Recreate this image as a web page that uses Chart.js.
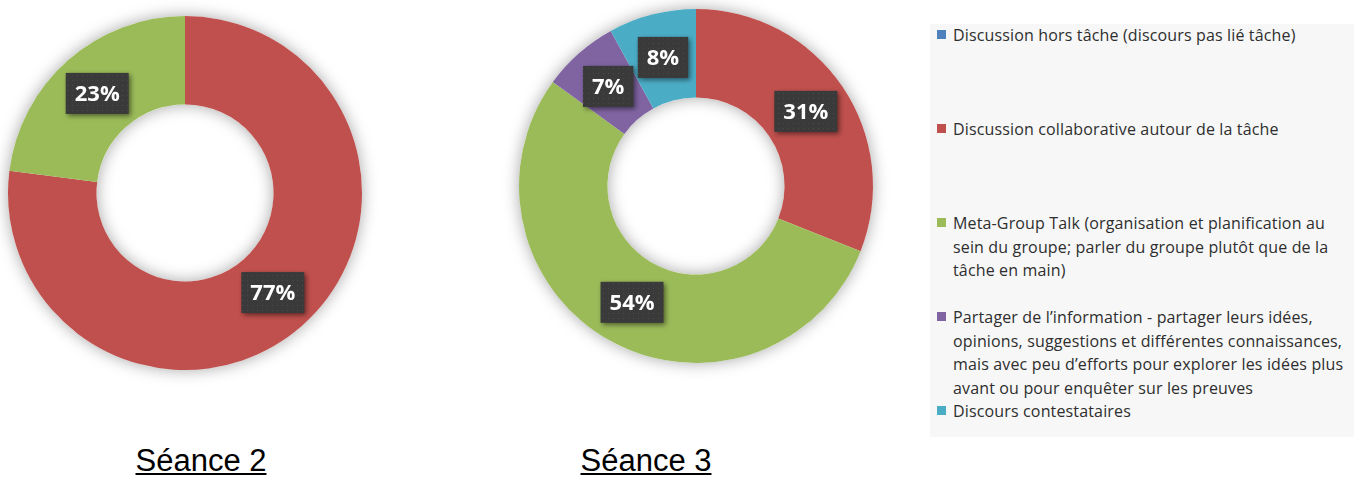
<!DOCTYPE html>
<html>
<head>
<meta charset="utf-8">
<script src="https://cdn.jsdelivr.net/npm/chart.js@4.4.1/dist/chart.umd.min.js"></script>
<style>
    html, body { margin: 0; padding: 0; background: #fff; }
    body { width: 1354px; height: 477px; position: relative; overflow: hidden; }
    .donut { position: absolute; width: 400px; height: 400px; }
    #chart2 { left: -15px; top: -7px; }
    #chart3 { left: 496px; top: -14px; }
    .title {
        position: absolute; top: 446px; width: 200px; margin-left: -100px;
        text-align: center; font-family: "Liberation Sans", Arial, sans-serif;
        font-size: 31px; text-decoration: underline; text-decoration-thickness: 2px;
        text-underline-offset: 2px; color: #000; line-height: 30px;
    }
    .legend {
        position: absolute; left: 930px; top: 24px; width: 424px; height: 413px;
        background: #f7f7f7;
    }
    .legend .item { position: absolute; left: 7px; }
    .legend .box { position: absolute; left: 0; top: 6px; width: 9px; height: 9px; }
    .legend .text {
        margin-left: 16px; font-family: "Open Sans", sans-serif; font-size: 16px;
        letter-spacing: 0.15px; line-height: 23.5px; color: #2e2e2e; white-space: nowrap;
    }
</style>
</head>
<body>
<canvas id="chart2" class="donut" width="400" height="400"></canvas>
<canvas id="chart3" class="donut" width="400" height="400"></canvas>
<div class="title" style="left: 201px;">Séance 2</div>
<div class="title" style="left: 646px;">Séance 3</div>
<div class="legend" id="legend"></div>
<script>
document.addEventListener('DOMContentLoaded', () => {
    const categories = [
        ['Discussion hors tâche (discours pas lié tâche)'],
        ['Discussion collaborative autour de la tâche'],
        ['Meta-Group Talk (organisation et planification au',
         'sein du groupe; parler du groupe plutôt que de la',
         'tâche en main)'],
        ['Partager de l\u2019information - partager leurs idées,',
         'opinions, suggestions et différentes connaissances,',
         'mais avec peu d\u2019efforts pour explorer les idées plus',
         'avant ou pour enquêter sur les preuves'],
        ['Discours contestataires']
    ];
    const colors = ['#4f81bd', '#c0504d', '#9bbb59', '#8064a2', '#4bacc6'];
    const seance2 = [0, 77, 23, 0, 0];
    const seance3 = [0, 31, 54, 7, 8];

    // dotted fill for the value boxes
    const dots = document.createElement('canvas');
    dots.width = 5; dots.height = 5;
    const dctx = dots.getContext('2d');
    dctx.fillStyle = '#3a3a3a';
    dctx.fillRect(0, 0, 5, 5);
    dctx.fillStyle = '#4a4a4a';
    dctx.fillRect(2, 2, 1, 1);

    // soft shadow under the whole ring
    const ringShadow = {
        id: 'ringShadow',
        beforeDatasetsDraw(chart) {
            const arc = chart.getDatasetMeta(0).data[0];
            if (!arc) return;
            const ctx = chart.ctx;
            ctx.save();
            ctx.shadowColor = 'rgba(0,0,0,0.35)';
            ctx.shadowBlur = 16;
            ctx.fillStyle = '#ffffff';
            ctx.beginPath();
            ctx.arc(arc.x, arc.y, arc.outerRadius, 0, Math.PI * 2);
            ctx.arc(arc.x, arc.y, arc.innerRadius, 0, Math.PI * 2, true);
            ctx.fill();
            ctx.restore();
        }
    };

    const valueBoxes = {
        id: 'valueBoxes',
        afterDatasetsDraw(chart) {
            const ctx = chart.ctx;
            const values = chart.data.datasets[0].data;
            const total = values.reduce((a, b) => a + b, 0);
            chart.getDatasetMeta(0).data.forEach((arc, i) => {
                if (!values[i]) return;
                const p = arc.getCenterPoint();
                const text = Math.round(values[i] / total * 100) + '%';
                ctx.save();
                ctx.font = 'bold 22px "Open Sans", sans-serif';
                const w = ctx.measureText(text).width + 18;
                const h = 41;
                ctx.shadowColor = 'rgba(0,0,0,0.5)';
                ctx.shadowBlur = 5;
                ctx.shadowOffsetX = 2;
                ctx.shadowOffsetY = 2;
                ctx.fillStyle = ctx.createPattern(dots, 'repeat');
                ctx.fillRect(p.x - w / 2, p.y - h / 2, w, h);
                ctx.shadowColor = 'transparent';
                ctx.fillStyle = '#ffffff';
                ctx.textAlign = 'center';
                ctx.textBaseline = 'middle';
                ctx.fillText(text, p.x, p.y + 1);
                ctx.restore();
            });
        }
    };

    function makeDonut(id, values) {
        new Chart(document.getElementById(id).getContext('2d'), {
            type: 'doughnut',
            data: {
                labels: categories.map(l => l.join(' ')),
                datasets: [{
                    data: values,
                    backgroundColor: colors,
                    borderWidth: 0
                }]
            },
            options: {
                responsive: false,
                animation: false,
                cutout: '50%',
                layout: { padding: 23 },
                plugins: {
                    legend: { display: false },
                    tooltip: { enabled: false }
                }
            },
            plugins: [ringShadow, valueBoxes]
        });
    }

    makeDonut('chart2', seance2);
    makeDonut('chart3', seance3);

    // Legend
    const legend = document.getElementById('legend');
    categories.forEach((lines, i) => {
        const item = document.createElement('div');
        item.className = 'item';
        item.style.top = (94 * i) + 'px';
        const box = document.createElement('div');
        box.className = 'box';
        box.style.background = colors[i];
        const text = document.createElement('div');
        text.className = 'text';
        text.innerHTML = lines.join('<br>');
        item.appendChild(box);
        item.appendChild(text);
        legend.appendChild(item);
    });
});
</script>
</body>
</html>
